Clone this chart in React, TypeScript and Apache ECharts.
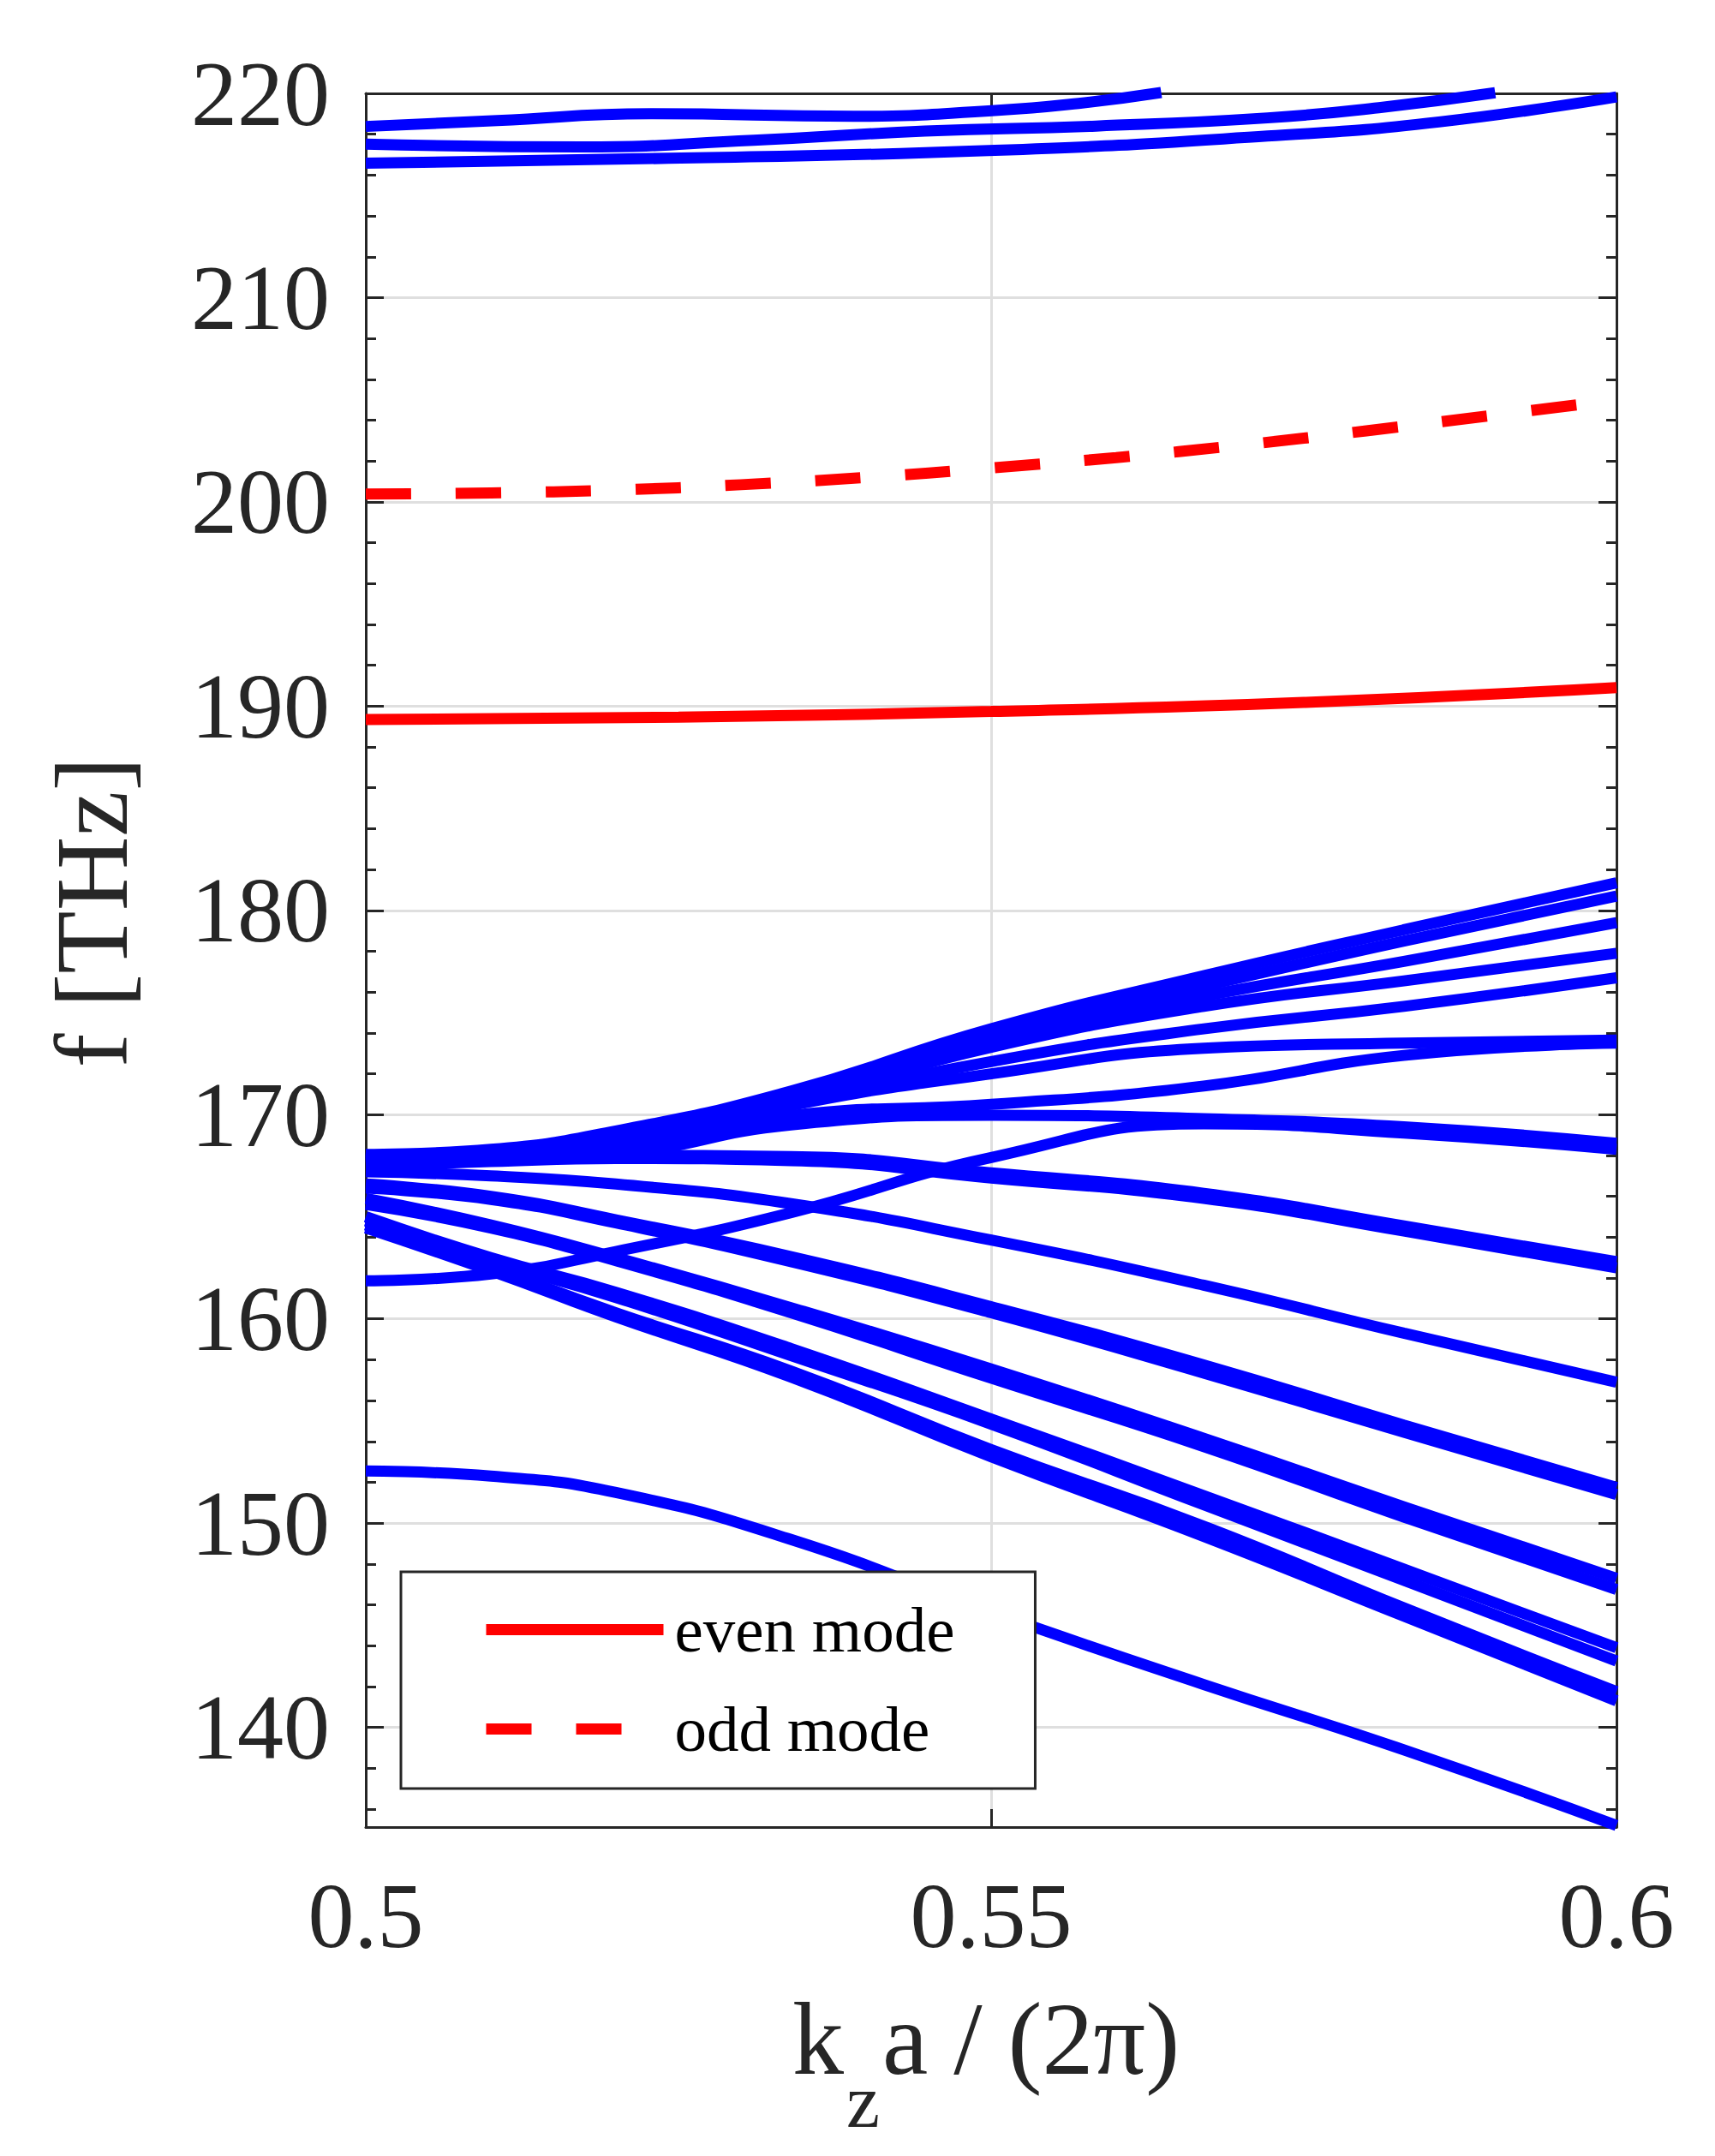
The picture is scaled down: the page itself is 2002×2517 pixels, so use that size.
import React, { useEffect, useRef } from "react";
import * as echarts from "echarts";

// ---------- data ----------
// sample positions (k_z a / 2pi) for the lower family of blue bands
const K = [0.5, 0.51, 0.52, 0.534, 0.55, 0.567, 0.583, 0.6];

const T4a = [168.05, 168.3, 169.2, 171.15, 174.2, 176.8, 179.05, 181.35];
const T4b = [168.0, 168.25, 169.05, 171.0, 173.95, 176.3, 178.5, 180.7];
const T4c = [167.95, 168.2, 168.9, 170.85, 173.6, 175.8, 177.5, 179.4];
const T4d = [167.9, 168.15, 168.75, 170.7, 173.3, 175.3, 176.55, 177.9];
const L5 = [167.85, 168.1, 168.6, 170.55, 172.6, 174.2, 175.3, 176.7];
const L6 = [167.8, 168.05, 168.45, 170.45, 172.0, 173.25, 173.5, 173.65];
const G = [167.75, 168.0, 168.3, 169.95, 170.5, 171.4, 172.9, 173.5];
const F = [167.7, 167.95, 168.15, 169.5, 169.97, 169.8, 169.4, 168.6];
const R = [161.86, 162.2, 163.3, 165.2, 167.9, 169.55, 169.1, 168.3];
const P6a = [167.6, 167.8, 168.0, 167.95, 167.15, 166.15, 164.55, 162.8];
const P6b = [167.5, 167.7, 167.85, 167.75, 166.9, 165.9, 164.3, 162.5];
const S5 = [167.2, 167.0, 166.6, 165.64, 163.86, 161.65, 159.3, 156.9];
const P4a = [166.6, 166.0, 164.85, 163.05, 160.6, 157.75, 154.8, 151.75];
const P4b = [166.4, 165.85, 164.7, 162.8, 160.3, 157.35, 154.45, 151.4];
const P3a = [165.9, 164.6, 163.0, 160.55, 157.55, 154.15, 150.8, 147.3];
const P3b = [165.6, 164.45, 162.85, 160.3, 157.1, 153.75, 150.3, 146.75];
const P2a = [165.0, 163.0, 161.3, 158.55, 155.1, 151.35, 147.75, 143.9];
const P2b = [164.8, 162.85, 161.05, 158.2, 154.85, 150.9, 147.2, 143.25];
const P1a = [164.6, 162.5, 160.3, 157.45, 153.6, 149.85, 145.85, 141.75];
const P1b = [164.45, 162.35, 160.1, 157.15, 153.25, 149.35, 145.45, 141.3];
const D0 = [152.55, 152.3, 151.5, 149.2, 145.65, 142.1, 138.9, 135.2];

// upper blue bands (own sample positions)
const T1_K = [0.5, 0.5105, 0.5228, 0.539, 0.5503, 0.557, 0.5636];
const T1 = [218.38, 218.67, 219.0, 218.88, 219.16, 219.51, 220.04];
const T2_K = [0.5, 0.5173, 0.531, 0.5447, 0.5584, 0.5721, 0.581, 0.5903];
const T2 = [217.52, 217.38, 217.7, 218.15, 218.4, 218.8, 219.3, 220.03];
const T3_K = [0.5, 0.5242, 0.5503, 0.5721, 0.5858, 0.6];
const T3 = [216.58, 216.82, 217.21, 217.91, 218.6, 219.83];

// red modes
const EVEN_K = [0.5, 0.525, 0.55, 0.575, 0.6];
const EVEN = [189.34, 189.46, 189.74, 190.18, 190.91];
const ODD_K = [0.5, 0.51, 0.52, 0.53, 0.54, 0.55, 0.56, 0.57, 0.58, 0.59, 0.6];
const ODD = [200.38, 200.44, 200.58, 200.84, 201.2, 201.66, 202.17, 202.78, 203.48, 204.23, 204.99];

const LEGEND_NAMES = ["even mode", "odd mode"];
const X_TICKS = [0.5, 0.55, 0.6];
const Y_MAJOR = [140, 150, 160, 170, 180, 190, 200, 210, 220];
const Y_MINOR = [136, 138, 142, 144, 146, 148, 152, 154, 156, 158, 162, 164, 166, 168, 172, 174, 176, 178, 182, 184, 186, 188, 192, 194, 196, 198, 202, 204, 206, 208, 212, 214, 216, 218];
const X_MIN = 0.5;
const X_MAX = 0.6;
const Y_MIN = 135.12;
const Y_MAX = 220;

const X_NAME_MAIN = "k";
const X_NAME_SUB = "z";
const X_NAME_REST = "a / (2\u03c0)";
const Y_NAME = "f [THz]";

// ---------- styles ----------
const FONT = "Liberation Serif";
const AXIS_COLOR = "#262626";
const GRID_COLOR = "#dfdfdf";
const BLUE = "#0000ff";
const RED = "#ff0000";
const LW = 13;

const pair = (xs: number[], ys: number[]) => xs.map((x, i) => [x, ys[i]]);

const lowerBands = [T4a, T4b, T4c, T4d, L5, L6, G, F, R, P6a, P6b, S5, P4a, P4b, P3a, P3b, P2a, P2b, P1a, P1b, D0];

function blueSeries(name: string, data: number[][]) {
  return {
    name,
    type: "line",
    data,
    symbol: "none",
    showSymbol: false,
    smooth: 0.5,
    clip: false,
    silent: true,
    lineStyle: { color: BLUE, width: LW, cap: "butt", join: "round" },
    itemStyle: { color: BLUE },
    z: 3,
  };
}

function buildOption() {
  const series: any[] = [];
  series.push(blueSeries("top 1", pair(T1_K, T1)));
  series.push(blueSeries("top 2", pair(T2_K, T2)));
  series.push(blueSeries("top 3", pair(T3_K, T3)));
  lowerBands.forEach((b, i) => series.push(blueSeries("band " + (i + 1), pair(K, b))));
  series.push({
    name: LEGEND_NAMES[0],
    type: "line",
    data: pair(EVEN_K, EVEN),
    symbol: "none",
    showSymbol: false,
    smooth: 0.5,
    clip: false,
    silent: true,
    lineStyle: { color: RED, width: LW, cap: "butt" },
    itemStyle: { color: RED },
    z: 4,
  });
  series.push({
    name: LEGEND_NAMES[1],
    type: "line",
    data: pair(ODD_K, ODD),
    symbol: "none",
    showSymbol: false,
    smooth: 0.5,
    clip: false,
    silent: true,
    lineStyle: { color: RED, width: LW, type: [53, 52], cap: "butt" },
    itemStyle: { color: RED },
    z: 4,
  });

  const axisLine = { show: true, onZero: false, lineStyle: { color: AXIS_COLOR, width: 3 } };
  const tickStyle = { color: AXIS_COLOR, width: 3 };

  const xBase = { type: "value", min: X_MIN, max: X_MAX, interval: 0.05 };
  const yBase = { type: "value", min: Y_MIN, max: Y_MAX, minInterval: 10, maxInterval: 10 };

  return {
    animation: false,
    backgroundColor: "#ffffff",
    textStyle: { fontFamily: FONT },
    grid: { left: 427, top: 109, width: 1460, height: 2024, containLabel: false },
    xAxis: [
      {
        ...xBase,
        position: "bottom",
        axisLine,
        axisTick: { show: true, inside: true, length: 21, lineStyle: tickStyle, customValues: X_TICKS },
        axisLabel: {
          show: true,
          customValues: X_TICKS,
          margin: 49,
          fontSize: 108,
          fontFamily: FONT,
          color: AXIS_COLOR,
          formatter: (v: number) => String(Math.round(v * 100) / 100),
        },
        splitLine: { show: true, lineStyle: { color: GRID_COLOR, width: 3 } },
      },
      {
        ...xBase,
        position: "top",
        axisLine,
        axisTick: { show: true, inside: true, length: 21, lineStyle: tickStyle, customValues: X_TICKS },
        axisLabel: { show: false },
        splitLine: { show: false },
      },
    ],
    yAxis: [
      {
        ...yBase,
        position: "left",
        axisLine,
        axisTick: { show: true, inside: true, length: 21, lineStyle: tickStyle, customValues: Y_MAJOR },
        axisLabel: {
          show: true,
          customValues: Y_MAJOR,
          margin: 42,
          fontSize: 108,
          fontFamily: FONT,
          color: AXIS_COLOR,
          formatter: (v: number) => (Math.abs(v % 10) < 1e-6 ? String(Math.round(v)) : ""),
        },
        splitLine: { show: true, lineStyle: { color: GRID_COLOR, width: 3 } },
      },
      {
        ...yBase,
        position: "left",
        axisLine: { show: false },
        axisTick: { show: true, inside: true, length: 12, lineStyle: tickStyle, customValues: Y_MINOR },
        axisLabel: { show: false },
        splitLine: { show: false },
      },
      {
        ...yBase,
        position: "right",
        axisLine,
        axisTick: { show: true, inside: true, length: 21, lineStyle: tickStyle, customValues: Y_MAJOR },
        axisLabel: { show: false },
        splitLine: { show: false },
      },
      {
        ...yBase,
        position: "right",
        axisLine: { show: false },
        axisTick: { show: true, inside: true, length: 12, lineStyle: tickStyle, customValues: Y_MINOR },
        axisLabel: { show: false },
        splitLine: { show: false },
      },
    ],
    legend: {
      data: LEGEND_NAMES,
      orient: "vertical",
      left: 468,
      top: 1835,
      padding: [30, 94, 32, 93],
      itemWidth: 207,
      itemHeight: 30,
      itemGap: 41,
      backgroundColor: "#ffffff",
      borderColor: AXIS_COLOR,
      borderWidth: 3,
      borderRadius: 0,
      selectedMode: false,
      lineStyle: { width: LW },
      itemStyle: { opacity: 0, borderWidth: 0 },
      textStyle: { fontSize: 75, lineHeight: 75, fontFamily: FONT, color: "#000000", padding: [0, 0, 0, 8] },
    },
    graphic: [
      {
        type: "text",
        x: 925,
        y: 2380.5,
        silent: true,
        style: { text: X_NAME_MAIN, fontSize: 120, fontFamily: FONT, fill: AXIS_COLOR, textAlign: "left", align: "left", textVerticalAlign: "middle", verticalAlign: "middle" },
      },
      {
        type: "text",
        x: 988,
        y: 2453,
        silent: true,
        style: { text: X_NAME_SUB, fontSize: 88, fontFamily: FONT, fill: AXIS_COLOR, textAlign: "left", align: "left", textVerticalAlign: "middle", verticalAlign: "middle" },
      },
      {
        type: "text",
        x: 1030,
        y: 2380.5,
        silent: true,
        style: { text: X_NAME_REST, fontSize: 120, fontFamily: FONT, fill: AXIS_COLOR, textAlign: "left", align: "left", textVerticalAlign: "middle", verticalAlign: "middle" },
      },
      {
        type: "text",
        x: 107.5,
        y: 1065,
        rotation: Math.PI / 2,
        silent: true,
        style: { text: Y_NAME, fontSize: 120, fontFamily: FONT, fill: AXIS_COLOR, textAlign: "center", align: "center", textVerticalAlign: "middle", verticalAlign: "middle" },
      },
    ],
    series,
  };
}

export default function App() {
  const ref = useRef<HTMLDivElement>(null);
  useEffect(() => {
    if (!ref.current) return;
    const chart = echarts.init(ref.current, null, { renderer: "svg" });
    chart.setOption(buildOption() as any);
    return () => {
      chart.dispose();
    };
  }, []);
  return (
    <div
      ref={ref}
      style={{ position: "absolute", left: 0, top: 0, width: "2002px", height: "2517px", background: "#ffffff" }}
    />
  );
}
